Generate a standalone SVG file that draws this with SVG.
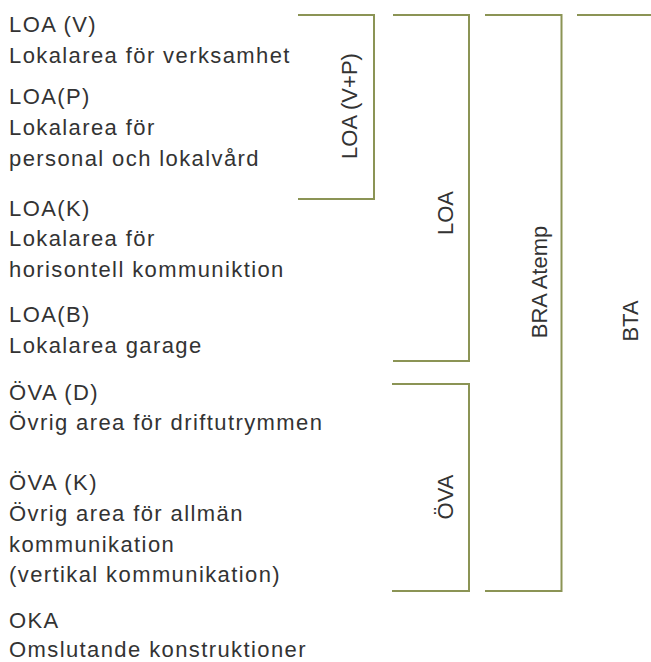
<svg xmlns="http://www.w3.org/2000/svg" width="651" height="662" viewBox="0 0 651 662">
  <style>
    .bg { fill: #ffffff; }
    .lbl { font-family: "Liberation Sans", Arial, sans-serif; font-size: 22px; fill: #333333; letter-spacing: 1.4px; }
    .vlbl { font-family: "Liberation Sans", Arial, sans-serif; font-size: 22px; fill: #333333; text-anchor: middle; }
    .br { fill: none; stroke: #8b9455; stroke-width: 2; }
  </style>
  <rect class="bg" x="0" y="0" width="651" height="662"/>

  <g id="items">
    <g id="loa-v">
      <text class="lbl" x="9" y="32">LOA (V)</text>
      <text class="lbl" x="9" y="63">Lokalarea för verksamhet</text>
    </g>
    <g id="loa-p">
      <text class="lbl" x="9" y="104">LOA(P)</text>
      <text class="lbl" x="9" y="135">Lokalarea för</text>
      <text class="lbl" x="9" y="166">personal och lokalvård</text>
    </g>
    <g id="loa-k">
      <text class="lbl" x="9" y="216">LOA(K)</text>
      <text class="lbl" x="9" y="246">Lokalarea för</text>
      <text class="lbl" x="9" y="277">horisontell kommuniktion</text>
    </g>
    <g id="loa-b">
      <text class="lbl" x="9" y="322">LOA(B)</text>
      <text class="lbl" x="9" y="353">Lokalarea garage</text>
    </g>
    <g id="ova-d">
      <text class="lbl" x="9" y="400">ÖVA (D)</text>
      <text class="lbl" x="9" y="430">Övrig area för driftutrymmen</text>
    </g>
    <g id="ova-k">
      <text class="lbl" x="9" y="490">ÖVA (K)</text>
      <text class="lbl" x="9" y="521">Övrig area för allmän</text>
      <text class="lbl" x="9" y="552">kommunikation</text>
      <text class="lbl" x="9" y="582">(vertikal kommunikation)</text>
    </g>
    <g id="oka">
      <text class="lbl" x="9" y="628">OKA</text>
      <text class="lbl" x="9" y="657">Omslutande konstruktioner</text>
    </g>
  </g>

  <g id="connectors">
    <path class="br" d="M298,15 H374 V199 H298"/>
    <path class="br" d="M393,15 H469 V361 H393"/>
    <path class="br" d="M485,15 H561.5 V591 H485"/>
    <path class="br" d="M577,15 H651"/>
    <path class="br" d="M392,384 H469 V591 H392"/>
  </g>

  <g id="group-labels">
    <g id="lbl-loa-vp"><text class="vlbl" transform="translate(357,106) rotate(-90)">LOA (V+P)</text></g>
    <g id="lbl-loa"><text class="vlbl" transform="translate(453,213) rotate(-90)">LOA</text></g>
    <g id="lbl-bra"><text class="vlbl" transform="translate(547,282) rotate(-90)">BRA Atemp</text></g>
    <g id="lbl-bta"><text class="vlbl" transform="translate(638,321) rotate(-90)">BTA</text></g>
    <g id="lbl-ova"><text class="vlbl" transform="translate(453,497) rotate(-90)">ÖVA</text></g>
  </g>
</svg>
